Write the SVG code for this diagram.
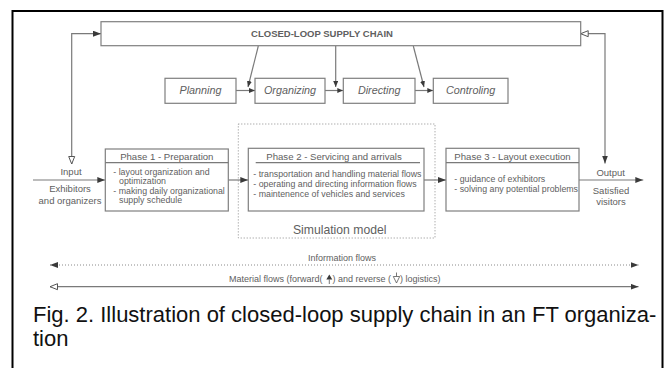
<svg xmlns="http://www.w3.org/2000/svg" width="665" height="368" viewBox="0 0 665 368">
<style>
.frame{fill:none;stroke:#000;stroke-width:2}
.box{fill:#fff;stroke:#7f7f7f;stroke-width:1.2}
.ln{fill:none;stroke:#7a7a7a;stroke-width:1.2}
.dot{fill:none;stroke:#8a8a8a;stroke-width:1;stroke-dasharray:1 2}
.t{font-family:"Liberation Sans",Arial,sans-serif;fill:#606060}
.ttl{font-size:9.6px;text-anchor:middle}
.body{font-size:8.8px}
.side{font-size:9.5px;text-anchor:middle}
.fn{font-size:10.8px;font-style:italic;text-anchor:middle}
.flow{font-size:9px}
.cap{font-family:"Liberation Sans",Arial,sans-serif;font-size:22px;fill:#111}
</style>
<defs>
<marker id="fa" markerUnits="userSpaceOnUse" markerWidth="8" markerHeight="6" refX="8" refY="3" orient="auto-start-reverse"><path d="M0,0 L8,3 L0,6 z" fill="#3a3a3a"/></marker>
<marker id="oa" markerUnits="userSpaceOnUse" markerWidth="10" markerHeight="8" refX="8.5" refY="4" orient="auto-start-reverse"><path d="M1,1 L8.5,4 L1,7 z" fill="#fff" stroke="#555" stroke-width="1"/></marker>
<marker id="fs" markerUnits="userSpaceOnUse" markerWidth="6" markerHeight="5" refX="6" refY="2.5" orient="auto"><path d="M0,0 L6,2.5 L0,5 z" fill="#3a3a3a"/></marker>
</defs>

<rect class="frame" x="12.5" y="11" width="650" height="380"/>

<g id="connectors">
<path class="ln" d="M71.7,164 V33.7 H101" marker-start="url(#oa)" marker-end="url(#fa)"/>
<path class="ln" d="M580.7,33.7 H605 V163.5" marker-start="url(#oa)" marker-end="url(#fa)"/>
<path class="ln" d="M258.3,46 L248,87" marker-end="url(#fs)"/>
<path class="ln" d="M335.7,46 V87" marker-end="url(#fs)"/>
<path class="ln" d="M413.3,46 L424,87" marker-end="url(#fs)"/>
<path class="ln" d="M236,90.5 H255" marker-end="url(#fs)"/>
<path class="ln" d="M325,90.5 H343.3" marker-end="url(#fs)"/>
<path class="ln" d="M415,90.5 H433.3" marker-end="url(#fs)"/>
<path class="ln" d="M33,180 H105.3" marker-end="url(#fa)"/>
<path class="ln" d="M228.3,180 H248.3" marker-end="url(#fa)"/>
<path class="ln" d="M424,180 H446" marker-end="url(#fa)"/>
<path class="ln" d="M579,180 H643.3" marker-end="url(#fa)"/>
<path class="dot" d="M50,265 H638.5" marker-start="url(#fa)" marker-end="url(#fa)"/>
<path class="ln" d="M50,286.7 H638.5" marker-start="url(#oa)" marker-end="url(#fa)"/>
</g>

<g id="closed-loop">
<rect class="box" x="101" y="21.7" width="479.7" height="24"/>
<text class="t" x="322" y="37" font-size="9.5" font-weight="bold" text-anchor="middle" fill="#333">CLOSED-LOOP SUPPLY CHAIN</text>
</g>

<g id="planning"><rect class="box" x="165" y="78.3" width="71" height="25"/><text class="t fn" x="200.5" y="94.3">Planning</text></g>
<g id="organizing"><rect class="box" x="255" y="78.3" width="70" height="25"/><text class="t fn" x="290" y="94.3">Organizing</text></g>
<g id="directing"><rect class="box" x="343.3" y="78.3" width="71.7" height="25"/><text class="t fn" x="379.2" y="94.3">Directing</text></g>
<g id="controling"><rect class="box" x="433.3" y="78.3" width="74.7" height="25"/><text class="t fn" x="470.6" y="94.3">Controling</text></g>

<g id="input">
<text class="t side" x="71" y="175" font-size="10">Input</text>
<text class="t side" x="70" y="192.3">Exhibitors</text>
<text class="t side" x="70" y="204">and organizers</text>
</g>

<g id="phase1">
<rect class="box" x="105.3" y="149" width="123" height="62"/>
<line class="ln" x1="105.3" y1="162.7" x2="228.3" y2="162.7"/>
<text class="t ttl" x="166.8" y="159.5">Phase 1 - Preparation</text>
<text class="t body" x="113.3" y="174.5">- layout organization and</text>
<text class="t body" x="119" y="184">optimization</text>
<text class="t body" x="113.3" y="193.5">- making daily organizational</text>
<text class="t body" x="119" y="203">supply schedule</text>
</g>

<g id="simulation">
<rect class="dot" x="238.3" y="124" width="196.7" height="114"/>
<text class="t" x="339.7" y="234" font-size="12.2" text-anchor="middle">Simulation model</text>
</g>

<g id="phase2">
<rect class="box" x="248.3" y="148.3" width="175.7" height="62.7"/>
<line class="ln" x1="255.7" y1="162.7" x2="420" y2="162.7"/>
<text class="t ttl" x="334" y="159.5">Phase 2 - Servicing and arrivals</text>
<text class="t body" x="253.3" y="177.3">- transportation and handling material flows</text>
<text class="t body" x="253.3" y="187.3">- operating and directing information flows</text>
<text class="t body" x="253.3" y="197.3">- maintenence of vehicles and services</text>
</g>

<g id="phase3">
<rect class="box" x="446" y="148.3" width="133" height="62.7"/>
<line class="ln" x1="446" y1="162.7" x2="579" y2="162.7"/>
<text class="t ttl" x="512.5" y="159.5">Phase 3 - Layout execution</text>
<text class="t body" x="454.3" y="182">- guidance of exhibitors</text>
<text class="t body" x="454.3" y="191.7">- solving any potential problems</text>
</g>

<g id="output">
<text class="t side" x="610.7" y="175.5" font-size="10.5">Output</text>
<text class="t side" x="611" y="193.5">Satisfied</text>
<text class="t side" x="611" y="205">visitors</text>
</g>

<g id="flows">
<text class="t flow" x="342" y="260.7" text-anchor="middle">Information flows</text>
<text class="t flow" x="229" y="282.3">Material flows (forward(</text>
<path d="M329.3,274.5 L332.3,279.5 L326.3,279.5 z" fill="#3a3a3a"/>
<line x1="329.3" y1="279.5" x2="329.3" y2="284" stroke="#555" stroke-width="0.8"/>
<text class="t flow" x="332.5" y="282.3">) and reverse (</text>
<line x1="396.5" y1="272.5" x2="396.5" y2="276.5" stroke="#555" stroke-width="0.8"/>
<path d="M393.3,276.5 L399.7,276.5 L396.5,283 z" fill="#fff" stroke="#555" stroke-width="0.8"/>
<text class="t flow" x="400" y="282.3">) logistics)</text>
</g>

<g id="caption">
<text class="cap" x="33" y="321.7">Fig. 2. Illustration of closed-loop supply chain in an FT organiza-</text>
<text class="cap" x="33" y="346">tion</text>
</g>
</svg>
